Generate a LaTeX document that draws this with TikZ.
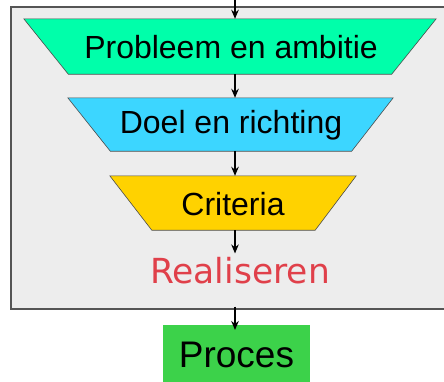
\documentclass[tikz,border=0pt]{standalone}
\usepackage{fontspec}
\setmainfont{Liberation Sans}
\newfontfamily\handfont{DejaVu Sans}
\usetikzlibrary{arrows.meta,calc}
\definecolor{cgreen}{HTML}{00FFAA}
\definecolor{ccyan}{HTML}{3CD6FF}
\definecolor{cgold}{HTML}{FFD200}
\definecolor{cproc}{HTML}{3CD24A}
\definecolor{cbg}{HTML}{EDEDED}
\definecolor{cborder}{HTML}{555555}
\definecolor{cred}{HTML}{E0404A}
\tikzset{
  tz/.style={inner sep=0pt, font=\fontsize{32}{37}\selectfont},
  shapeline/.style={draw=black!70, line width=0.6pt},
  arr/.style={-{Stealth[length=9pt,width=7.5pt]}, line width=2pt, black},
}
\begin{document}
\begin{tikzpicture}[x=1pt,y=-1pt]
\useasboundingbox (0,0) rectangle (444,381);
% gray frame
\node[draw=cborder, fill=cbg, line width=1.8pt, minimum width=440pt, minimum height=302pt, inner sep=0pt, anchor=north west] (frame) at (10,6) {};
\coordinate (top) at (235,0);
% trapezium nodes
\node[tz, minimum width=412pt, minimum height=55pt] (p1) at (230,46.5) {};
\node[tz, minimum width=325pt, minimum height=53pt] (p2) at (230.5,124.5) {};
\node[tz, minimum width=246pt, minimum height=54pt] (p3) at (233,203) {};
\fill[cgreen] (p1.north west) -- (p1.north east) -- ($(p1.south east)+(-44.5,0)$) -- ($(p1.south west)+(44.5,0)$) -- cycle;
\draw[shapeline] (p1.north west) -- (p1.north east) -- ($(p1.south east)+(-44.5,0)$) -- ($(p1.south west)+(44.5,0)$) -- cycle;
\fill[ccyan] (p2.north west) -- (p2.north east) -- ($(p2.south east)+(-41.5,0)$) -- ($(p2.south west)+(42.5,0)$) -- cycle;
\draw[shapeline] (p2.north west) -- (p2.north east) -- ($(p2.south east)+(-41.5,0)$) -- ($(p2.south west)+(42.5,0)$) -- cycle;
\fill[cgold] (p3.north west) -- (p3.north east) -- ($(p3.south east)+(-41,0)$) -- ($(p3.south west)+(42,0)$) -- cycle;
\draw[shapeline] (p3.north west) -- (p3.north east) -- ($(p3.south east)+(-41,0)$) -- ($(p3.south west)+(42,0)$) -- cycle;
\node[tz] (t1) at (231,47) {Probleem en ambitie};
\node[tz] (t2) at (231,125) {Doel en richting};
\node[tz] (t3) at (233,204) {Criteria};
% Realiseren
\node[inner sep=0pt, text=cred, font=\handfont\fontsize{34.5}{40}\selectfont] (real) at (240,271) {Realiseren};
% Proces
\node[fill=cproc, minimum width=147pt, minimum height=60pt, inner sep=0pt, font=\fontsize{37}{42}\selectfont, anchor=north] (proc) at (236.5,325) {\raisebox{-3pt}{Proces}};
% arrows
\draw[arr] (top) -- (p1.north -| top);
\draw[arr] (p1.south -| top) -- (p2.north -| top);
\draw[arr] (p2.south -| top) -- (p3.north -| top);
\draw[arr] (p3.south -| top) -- ($(real.north -| top)+(0,-4)$);
\draw[arr] ($(real.south -| top)+(0,22)$) -- ($(proc.north -| top)+(0,5)$);
\end{tikzpicture}
\end{document}
